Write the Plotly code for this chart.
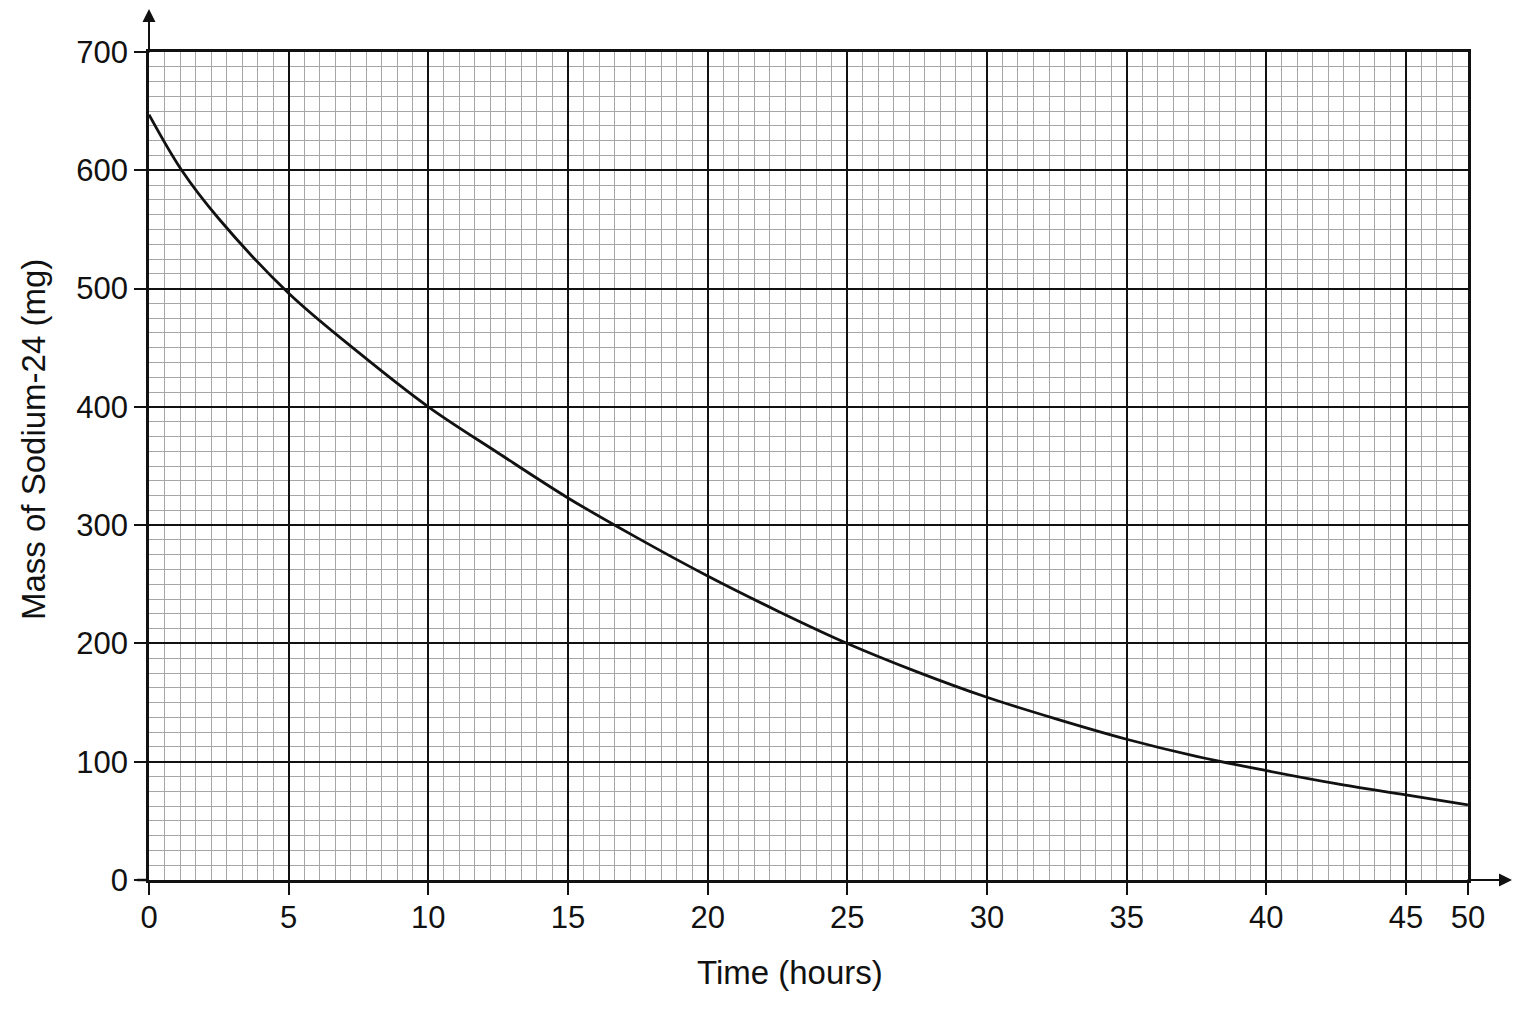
import plotly.graph_objects as go

# Data (time in axis units, mass in mg)
time_hours = [0, 1.17, 2.5, 5, 7.5, 10, 12.5, 15, 17.5, 20, 22.5, 25, 27.5,
              30, 32.5, 35, 37.5, 40, 42.5, 45, 47.22]
mass_mg = [647, 600, 559, 496, 446, 400, 361, 323, 289, 257, 227.5, 200, 176,
           154.5, 136, 119, 104.5, 92.5, 81.5, 72, 63.5]

x_tick_vals = [0, 5, 10, 15, 20, 25, 30, 35, 40, 45, 47.222]
x_tick_text = ["0", "5", "10", "15", "20", "25", "30", "35", "40", "45", "50"]
y_tick_vals = [0, 100, 200, 300, 400, 500, 600, 700]
y_tick_text = ["0", "100", "200", "300", "400", "500", "600", "700"]

X_MAX = 47.222
Y_MAX = 700

W, H = 1536, 1024
OFF = 8  # page offset of the figure in the browser
PL, PT, PW, PH = 149, 52, 1319, 828  # desired plot box on screen
L, T = PL - OFF, PT - OFF
R, B = W - L - PW, H - T - PH


def px_x(px):
    return (px - PL) / PW


def px_y(py):
    return (PT + PH - py) / PH


tick_font = dict(family="Liberation Sans, Arial", size=31, color="#111")
title_font = dict(family="Liberation Sans, Arial", size=33, color="#111")

fig = go.Figure()
fig.add_trace(go.Scatter(
    x=time_hours, y=mass_mg, mode="lines",
    line=dict(color="#111", width=2.8, shape="spline", smoothing=1.0),
    hoverinfo="skip", showlegend=False,
))

fig.update_layout(
    width=W, height=H,
    margin=dict(l=L, r=R, t=T, b=B, pad=0),
    paper_bgcolor="white", plot_bgcolor="white",
    showlegend=False,
    xaxis=dict(
        range=[0, X_MAX], tickmode="array", tickvals=x_tick_vals, ticktext=x_tick_text,
        showgrid=True, gridcolor="#111", gridwidth=1.7,
        showline=True, linecolor="#111", linewidth=2.5, mirror=True,
        ticks="outside", ticklen=12, tickwidth=2, tickcolor="#111",
        tickfont=tick_font, zeroline=False, ticklabelstandoff=-4,
        minor=dict(tick0=0, dtick=5/9, showgrid=True, gridcolor="#a6a6a6", gridwidth=1, ticks=""),
        layer="below traces",
    ),
    yaxis=dict(
        range=[0, Y_MAX], tickmode="array", tickvals=y_tick_vals, ticktext=y_tick_text,
        showgrid=True, gridcolor="#111", gridwidth=1.7,
        showline=True, linecolor="#111", linewidth=2.5, mirror=True,
        ticks="outside", ticklen=12, tickwidth=2, tickcolor="#111",
        tickfont=tick_font, zeroline=False,
        minor=dict(tick0=0, dtick=12.5, showgrid=True, gridcolor="#a6a6a6", gridwidth=1, ticks=""),
        layer="below traces",
    ),
    annotations=[
        dict(text="Time (hours)", xref="paper", yref="paper",
             x=px_x(790), y=px_y(972), xanchor="center", yanchor="middle",
             showarrow=False, font=title_font),
        dict(text="Mass of Sodium-24 (mg)", xref="paper", yref="paper",
             x=px_x(33), y=px_y(440), xanchor="center", yanchor="middle",
             textangle=-90, showarrow=False, font=title_font),
        # axis arrows
        dict(text="", xref="paper", yref="paper", x=px_x(1512), y=0,
             ax=-46, ay=0, showarrow=True, arrowhead=2, arrowsize=1.3, arrowwidth=2,
             arrowcolor="#111"),
        dict(text="", xref="paper", yref="paper", x=0, y=px_y(8),
             ax=0, ay=46, showarrow=True, arrowhead=2, arrowsize=1.3, arrowwidth=2,
             arrowcolor="#111"),
    ],
    shapes=[
        # small extension of the x axis line to the left of the y axis
        dict(type="line", xref="paper", yref="paper", x0=px_x(137), x1=0, y0=0, y1=0,
             line=dict(color="#111", width=2.5)),
    ],
)

fig.write_html("out.html")
